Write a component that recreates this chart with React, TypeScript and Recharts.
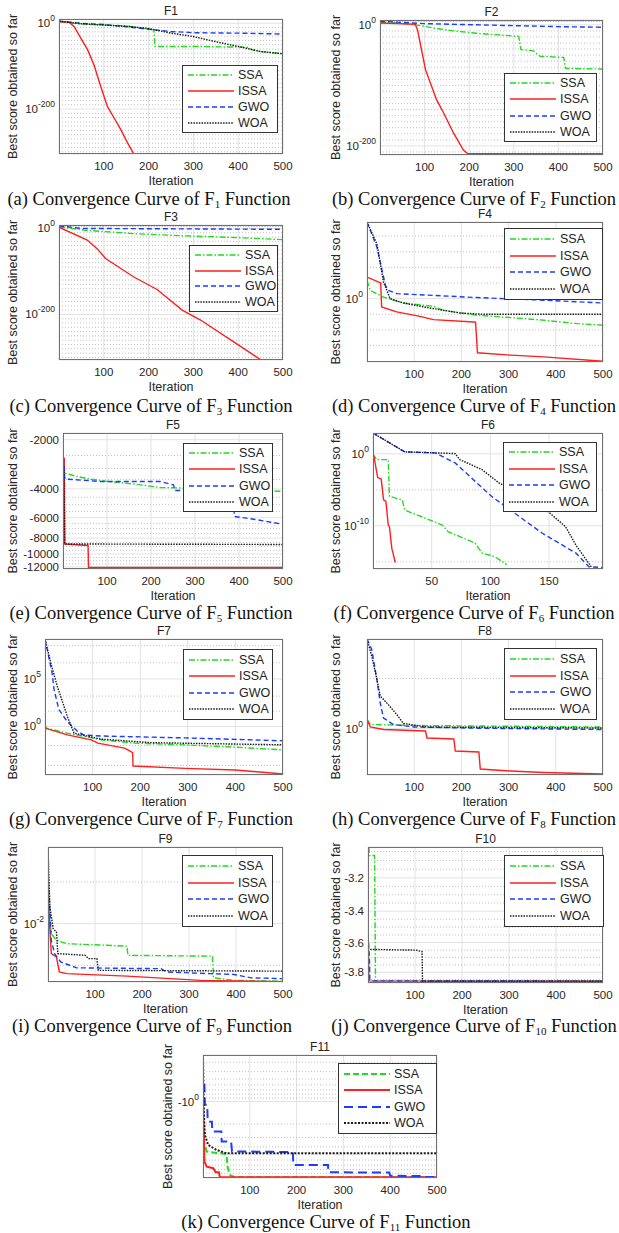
import React from "react";
import { LineChart, Line, XAxis, YAxis, CartesianGrid, ReferenceLine } from "recharts";

type Pt = [number, number];

const SANS = '"Liberation Sans", Arial, sans-serif';
const SERIF = '"Liberation Serif", "Times New Roman", serif';

// points are [iteration, log10(best score)] unless noted
const X_TICKS = [100, 200, 300, 400, 500];

const F1_SSA: Pt[] = [[0, 4], [50, -2], [100, -4], [150, -6], [200, -13], [212, -16], [214, -54], [300, -54], [420, -56], [432, -62], [450, -66], [500, -71]];
const F1_ISSA: Pt[] = [[0, 4], [20, 3], [23, 2], [34, -8], [49, -35], [64, -62], [78, -97], [93, -147], [108, -194], [123, -221], [138, -248], [153, -279], [167, -305], [172, -315]];
const F1_GWO: Pt[] = [[0, 5], [50, 0], [100, -3], [150, -8], [200, -14], [250, -19], [300, -22], [400, -23], [500, -25]];
const F1_WOA: Pt[] = [[0, 5], [50, -1], [100, -4], [150, -7], [200, -12], [250, -23], [300, -31], [350, -43], [400, -54], [450, -66], [500, -71]];

const F2_SSA: Pt[] = [[0, 4], [40, 3], [80, 0], [143, -8], [217, -14], [311, -19], [316, -41], [344, -43], [359, -52], [412, -54], [416, -72], [500, -73]];
const F2_ISSA: Pt[] = [[0, 3], [40, 2], [79, 1], [84, -8], [90, -30], [102, -74], [113, -96], [127, -124], [143, -146], [165, -179], [187, -207], [197, -213], [500, -213]];
const F2_GWO: Pt[] = [[0, 6], [100, 2], [250, -0.5], [400, -3], [500, -4]];
const F2_WOA: Pt[] = [[0, 7], [500, 7]];

const F3_SSA: Pt[] = [[0, 4], [55, -4], [167, -12], [275, -17], [390, -21], [500, -26]];
const F3_ISSA: Pt[] = [[0, 3], [63, -27], [85, -47], [104, -70], [167, -113], [219, -142], [275, -190], [316, -213], [390, -264], [457, -310]];
const F3_GWO: Pt[] = [[0, 6], [50, 0], [500, -2]];
const F3_WOA: Pt[] = [[0, 7], [500, 7]];

const F4_SSA: Pt[] = [[0, 1.17], [7, 0.53], [35, 0.1], [77, -0.28], [141, -0.49], [162, -0.75], [233, -1.06], [304, -1.21], [375, -1.38], [446, -1.6], [500, -1.7]];
const F4_ISSA: Pt[] = [[0, 1.38], [25, 1.06], [29, 1.0], [31, -0.53], [63, -0.85], [112, -1.13], [141, -1.34], [226, -1.49], [230, -1.5], [234, -3.46], [304, -3.61], [375, -3.72], [500, -4.0]];
const F4_GWO: Pt[] = [[0, 4.9], [21, 3.3], [35, 1.4], [39, 0.85], [45, 0.53], [63, 0.32], [233, 0.07], [375, -0.1], [500, -0.28]];
const F4_WOA: Pt[] = [[0, 4.9], [21, 3.5], [35, 1.06], [49, 0], [77, -0.28], [141, -0.64], [198, -0.92], [247, -1.0], [500, -1.0]];

// F5: raw best score (negative)
const F5_SSA: Pt[] = [[0, -2900], [3, -3200], [32, -3360], [60, -3480], [100, -3600], [161, -3730], [221, -3920], [274, -3950], [500, -4140]];
const F5_ISSA: Pt[] = [[0, -2580], [3, -2600], [4, -8690], [57, -8870], [58, -12100], [500, -12100]];
const F5_GWO: Pt[] = [[0, -1850], [1, -2650], [4, -3480], [85, -3600], [221, -3600], [251, -3780], [255, -4090], [300, -4100], [385, -4300], [390, -5900], [433, -6130], [500, -6580]];
const F5_WOA: Pt[] = [[0, -3000], [2, -2900], [4, -8690], [500, -8750]];

const F6_SSA: Pt[] = [[0, 0], [3, -0.8], [13, -0.8], [14, -5.9], [25, -6.4], [27, -7.8], [44, -8.9], [59, -9.9], [64, -10.8], [87, -12.4], [93, -13.8], [104, -14.3], [114, -15.4]];
const F6_ISSA: Pt[] = [[0, 0], [1, -0.56], [4, -3.3], [7, -3.5], [9, -6.4], [11, -6.6], [13, -9.9], [14, -10.1], [16, -13.1], [19, -15.1]];
const F6_GWO: Pt[] = [[0, 2.9], [27, 0.28], [53, 0.14], [70, -1.26], [101, -5.9], [144, -11.0], [173, -13.8], [184, -15.7], [196, -15.8]];
const F6_WOA: Pt[] = [[0, 2.9], [27, 0.28], [53, 0.14], [70, 0.04], [74, -0.8], [93, -2.2], [107, -4.0], [144, -7.3], [164, -10.1], [173, -12.7], [186, -15.7]];

const F7_SSA: Pt[] = [[0, 0.18], [3, -0.17], [47, -0.7], [118, -1.4], [189, -1.75], [294, -1.93], [400, -2.18], [500, -2.46]];
const F7_ISSA: Pt[] = [[0, -0.17], [47, -0.88], [97, -1.4], [111, -1.75], [167, -2.28], [174, -2.46], [184, -2.74], [185, -4.15], [294, -4.4], [400, -4.57], [500, -5.0]];
const F7_GWO: Pt[] = [[0, 9.2], [15, 5.6], [19, 3.9], [29, 1.8], [47, 0.5], [68, -0.5], [82, -0.9], [118, -1.0], [294, -1.2], [500, -1.5]];
const F7_WOA: Pt[] = [[0, 9.2], [12, 6.7], [26, 4.2], [47, 1.05], [61, -0.7], [118, -1.33], [223, -1.7], [500, -1.93]];

const F8_SSA: Pt[] = [[0, 0.18], [7, 0.08], [100, 0.06], [500, 0.03]];
const F8_ISSA: Pt[] = [[0, 0.18], [7, 0.03], [35, -0.02], [124, -0.05], [127, -0.19], [184, -0.21], [187, -0.45], [237, -0.47], [240, -0.81], [304, -0.85], [375, -0.88], [500, -0.91]];
const F8_GWO: Pt[] = [[0, 1.79], [10, 1.58], [21, 0.98], [28, 0.51], [35, 0.21], [56, 0.08], [100, 0.03], [233, 0.006], [500, -0.02]];
const F8_WOA: Pt[] = [[0, 1.79], [10, 1.45], [21, 0.98], [28, 0.65], [45, 0.48], [63, 0.28], [77, 0.1], [127, 0.03], [500, 0.01]];

const F9_SSA: Pt[] = [[0, -1.44], [7, -2.24], [18, -2.4], [40, -2.48], [168, -2.54], [170, -2.76], [350, -2.78], [352, -3.3], [396, -3.36], [500, -3.38]];
const F9_ISSA: Pt[] = [[0, -1.2], [4, -2.16], [7, -2.72], [18, -2.8], [24, -3.16], [40, -3.2], [168, -3.26], [325, -3.36], [500, -3.39]];
const F9_GWO: Pt[] = [[0, -0.8], [4, -1.68], [7, -2.4], [14, -2.72], [27, -2.92], [61, -3.06], [240, -3.08], [253, -3.16], [346, -3.2], [396, -3.22], [432, -3.3], [500, -3.32]];
const F9_WOA: Pt[] = [[0, -0.16], [4, -1.6], [11, -2.12], [18, -2.2], [21, -2.72], [79, -2.76], [86, -2.84], [104, -2.84], [107, -3.12], [500, -3.14]];

// F10, F11: raw best score (negative)
const F10_SSA: Pt[] = [[0, -3.03], [2, -3.03], [3, -3.072], [14, -3.072], [16, -3.862], [500, -3.862]];
const F10_ISSA: Pt[] = [[0, -3.44], [2, -3.86], [500, -3.8625]];
const F10_GWO: Pt[] = [[0, -3.55], [3, -3.7], [4, -3.855], [10, -3.86], [500, -3.862]];
const F10_WOA: Pt[] = [[0, -3.55], [1, -3.645], [102, -3.65], [115, -3.66], [116, -3.862], [500, -3.862]];

const F11_SSA: Pt[] = [[0, -1.36], [2, -3.4], [8, -4.64], [50, -5.0], [53, -7.73], [58, -9.5], [68, -10.15], [500, -10.15]];
const F11_ISSA: Pt[] = [[0, -1.0], [3, -6.3], [8, -7.36], [22, -7.7], [27, -8.73], [34, -8.73], [36, -10.15], [500, -10.15]];
const F11_GWO: Pt[] = [[0, -0.6], [3, -0.6], [4, -1.1], [9, -1.1], [10, -1.85], [19, -1.85], [20, -2.5], [39, -2.5], [40, -3.4], [60, -3.4], [62, -4.6], [192, -4.7], [193, -6.98], [267, -6.98], [268, -8.73], [398, -8.8], [400, -9.7], [470, -9.8], [472, -10.1], [500, -10.1]];
const F11_WOA: Pt[] = [[0, -0.24], [2, -1.5], [4, -2.78], [11, -3.78], [29, -4.4], [50, -4.88], [500, -4.88]];

const SERIES = [
  { key: "ssa", name: "SSA", color: "#1fdc1f", dash: "6 2 1.5 2", thickDash: "6 3" },
  { key: "issa", name: "ISSA", color: "#ff1f1f", dash: undefined, thickDash: undefined },
  { key: "gwo", name: "GWO", color: "#1b3dff", dash: "5 3", thickDash: "9 5" },
  { key: "woa", name: "WOA", color: "#1a1a1a", dash: "1.5 1.2", thickDash: "2 1.5" },
];

const tens = (lo: number, hi: number, skip: number[]) => {
  const out: number[] = [];
  for (let v = lo; v <= hi; v += 10) if (!skip.includes(v)) out.push(v);
  return out;
};

const FORMATS: Record<string, (t: number) => { base: string; sup?: string }> = {
  pow: (t) => ({ base: "10", sup: String(t) }),
  int: (t) => ({ base: String(-Math.round(Math.pow(10, t))) }),
  dec: (t) => ({ base: (-Math.pow(10, t)).toFixed(1) }),
  negpow: (t) => ({ base: "-10", sup: String(Math.round(t)) }),
};

const PANELS = [
  { name: "F1", tag: "a", col: 0, box: [59, 283, 19, 154], xDomain: [0, 500], xTicks: X_TICKS, yDomain: [-305, 10], yTicks: [0, -200], minor: tens(-300, 0, [0, -200]), fmt: "pow", neg: false, data: { ssa: F1_SSA, issa: F1_ISSA, gwo: F1_GWO, woa: F1_WOA }, legend: [182, 278, 65, 133], labelX: 13, cap: [149, 199] },
  { name: "F2", tag: "b", col: 310, box: [380, 603, 20, 155], xDomain: [0, 500], xTicks: X_TICKS, yDomain: [-215, 8], yTicks: [0, -200], minor: tens(-210, 0, [0, -200]), fmt: "pow", neg: false, data: { ssa: F2_SSA, issa: F2_ISSA, gwo: F2_GWO, woa: F2_WOA }, legend: [504, 597, 73, 142], labelX: 336, cap: [474, 199] },
  { name: "F3", tag: "c", col: 0, box: [59, 283, 225, 360], xDomain: [0, 500], xTicks: X_TICKS, yDomain: [-306, 8], yTicks: [0, -200], minor: tens(-300, 0, [0, -200]), fmt: "pow", neg: false, data: { ssa: F3_SSA, issa: F3_ISSA, gwo: F3_GWO, woa: F3_WOA }, legend: [189, 278, 245, 312], labelX: 13, cap: [151, 406] },
  { name: "F4", tag: "d", col: 310, box: [367, 603, 222, 362], xDomain: [0, 500], xTicks: X_TICKS, yDomain: [-4.05, 4.9], yTicks: [0], minor: [-3, -2, -1, 1, 2, 3, 4], fmt: "pow", neg: false, data: { ssa: F4_SSA, issa: F4_ISSA, gwo: F4_GWO, woa: F4_WOA }, legend: [504, 603, 228, 300], labelX: 336, cap: [474, 406] },
  { name: "F5", tag: "e", col: 0, box: [63, 283, 433, 569], xDomain: [0, 500], xTicks: X_TICKS, yDomain: [Math.log10(1820), Math.log10(12360)], yTicks: [-2000, -4000, -6000, -8000, -10000, -12000], minor: [-2500, -3000, -3500, -4500, -5000, -5500, -6500, -7000, -7500, -8500, -9000, -9500, -10500, -11000, -11500], fmt: "int", neg: true, data: { ssa: F5_SSA, issa: F5_ISSA, gwo: F5_GWO, woa: F5_WOA }, legend: [183, 273, 443, 512], labelX: 13, cap: [151, 613] },
  { name: "F6", tag: "f", col: 310, box: [373, 603, 433, 569], xDomain: [0, 196], xTicks: [50, 100, 150], yDomain: [-16, 2.9], yTicks: [0, -10], minor: [-5, -15], fmt: "pow", neg: false, data: { ssa: F6_SSA, issa: F6_ISSA, gwo: F6_GWO, woa: F6_WOA }, legend: [503, 597, 442, 512], labelX: 336, cap: [474, 613] },
  { name: "F7", tag: "g", col: 0, box: [45, 283, 639, 775], xDomain: [0, 500], xTicks: X_TICKS, yDomain: [-5.1, 9.2], yTicks: [0, 5], minor: [8.5, 6.7, 3.2, 1.6, -2, -4.1], fmt: "pow", neg: false, data: { ssa: F7_SSA, issa: F7_ISSA, gwo: F7_GWO, woa: F7_WOA }, legend: [183, 273, 649, 720], labelX: 13, cap: [151, 819] },
  { name: "F8", tag: "h", col: 310, box: [367, 603, 639, 775], xDomain: [0, 500], xTicks: X_TICKS, yDomain: [-0.93, 1.79], yTicks: [0], minor: [1], fmt: "pow", neg: false, data: { ssa: F8_SSA, issa: F8_ISSA, gwo: F8_GWO, woa: F8_WOA }, legend: [504, 597, 648, 720], labelX: 336, cap: [474, 819] },
  { name: "F9", tag: "i", col: 0, box: [48, 283, 847, 982], xDomain: [0, 500], xTicks: X_TICKS, yDomain: [-3.4, -0.16], yTicks: [-2], minor: [-1, -3], fmt: "pow", neg: false, data: { ssa: F9_SSA, issa: F9_ISSA, gwo: F9_GWO, woa: F9_WOA }, legend: [182, 273, 855, 927], labelX: 13, cap: [152, 1026] },
  { name: "F10", tag: "j", col: 310, box: [368, 603, 847, 983], xDomain: [0, 500], xTicks: X_TICKS, yDomain: [Math.log10(3.025), Math.log10(3.875)], yTicks: [-3.2, -3.4, -3.6, -3.8], minor: [-3.05, -3.1, -3.15, -3.25, -3.3, -3.35, -3.45, -3.5, -3.55, -3.65, -3.7, -3.75, -3.85], fmt: "dec", neg: true, data: { ssa: F10_SSA, issa: F10_ISSA, gwo: F10_GWO, woa: F10_WOA }, legend: [504, 604, 855, 927], labelX: 336, cap: [474, 1026] },
  { name: "F11", tag: "k", col: 150, box: [203, 437, 1055, 1178], xDomain: [0, 500], xTicks: X_TICKS, yDomain: [Math.log10(0.24), Math.log10(10.4)], yTicks: [-1], minor: [-0.3, -0.4, -0.5, -0.6, -0.7, -0.8, -0.9, -2, -3, -4, -5, -6, -7, -8, -9], fmt: "negpow", neg: true, thick: true, data: { ssa: F11_SSA, issa: F11_ISSA, gwo: F11_GWO, woa: F11_WOA }, legend: [338, 437, 1063, 1134], labelX: 168, cap: [326, 1222] },
];

type PanelCfg = (typeof PANELS)[number];

function YTick(props: any) {
  const { x, y, payload, fmt } = props;
  const t = FORMATS[fmt](payload.value);
  return (
    <text x={x} y={y} textAnchor="end" dominantBaseline="central" fontSize={11.5} fill="#262626" fontFamily={SANS}>
      {t.base}
      {t.sup !== undefined && (
        <tspan dy={-5} fontSize={8.5}>
          {t.sup}
        </tspan>
      )}
    </text>
  );
}

function LegendBox({ cfg, left, top }: { cfg: PanelCfg; left: number; top: number }) {
  const [x0, x1, y0, y1] = cfg.legend;
  const thick = !!(cfg as any).thick;
  return (
    <div
      style={{
        position: "absolute",
        left: x0 - left,
        top: y0 - top,
        width: x1 - x0,
        height: y1 - y0,
        border: "1px solid #333",
        background: "#fff",
        boxSizing: "border-box",
        display: "flex",
        flexDirection: "column",
        justifyContent: "space-evenly",
      }}
    >
      {SERIES.map((s) => (
        <div key={s.key} style={{ display: "flex", alignItems: "center", height: 14 }}>
          <svg width={46} height={8} style={{ marginLeft: 5 }}>
            <line x1={0} y1={4} x2={46} y2={4} stroke={s.color} strokeWidth={thick ? 2 : 1.4} strokeDasharray={thick ? s.thickDash : s.dash} />
          </svg>
          <span style={{ fontSize: 12.5, fontFamily: SANS, color: "#222", marginLeft: 4 }}>{s.name}</span>
        </div>
      ))}
    </div>
  );
}

function Panel({ cfg }: { cfg: PanelCfg }) {
  const tf = cfg.neg ? (v: number) => Math.log10(-v) : (v: number) => v;
  const [px0, px1, py0, py1] = cfg.box;
  const left = cfg.col;
  const top = py0 - 20;
  const width = px1 + 14 - left;
  const height = py1 + 33 - top;
  const thick = !!(cfg as any).thick;
  const data = cfg.data as Record<string, Pt[]>;
  const txt = { fontSize: 11.5, fill: "#262626", fontFamily: SANS };

  return (
    <div style={{ position: "absolute", left, top, width, height }}>
      <LineChart width={width} height={height} margin={{ top: 20, right: 14, left: 0, bottom: 0 }}>
        <CartesianGrid stroke="#e2e2e2" />
        {cfg.minor.map((m) => (
          <ReferenceLine key={m} y={tf(m)} stroke="#c2c2c2" strokeDasharray="1 2" />
        ))}
        <XAxis
          type="number"
          dataKey="x"
          domain={cfg.xDomain}
          ticks={cfg.xTicks}
          interval={0}
          allowDataOverflow
          tickLine={false}
          axisLine={false}
          tickSize={4}
          tickMargin={4}
          height={33}
          tick={txt}
          label={{ value: "Iteration", position: "insideBottom", offset: 2, fontSize: 12.5, fill: "#262626", fontFamily: SANS }}
        />
        <YAxis
          type="number"
          dataKey="y"
          domain={cfg.yDomain}
          ticks={cfg.yTicks.map(tf)}
          interval={0}
          reversed={cfg.neg}
          allowDataOverflow
          width={px0 - left}
          tickLine={false}
          axisLine={false}
          tickSize={2}
          tickMargin={2}
          tick={(p: any) => <YTick {...p} fmt={cfg.fmt} />}
          label={{
            value: "Best score obtained so far",
            angle: -90,
            position: "insideLeft",
            offset: cfg.labelX - left,
            textAnchor: "middle",
            fontSize: 12.5,
            fill: "#262626",
            fontFamily: SANS,
          }}
        />
        {SERIES.map((s) => (
          <Line
            key={s.key}
            data={data[s.key].map(([x, v]) => ({ x, y: tf(v) }))}
            dataKey="y"
            type="linear"
            stroke={s.color}
            strokeWidth={thick ? 2 : 1.4}
            strokeDasharray={thick ? s.thickDash : s.dash}
            dot={false}
            isAnimationActive={false}
          />
        ))}
      </LineChart>
      <div
        style={{
          position: "absolute",
          left: px0 - left,
          top: 20,
          width: px1 - px0,
          height: py1 - py0,
          border: "1px solid #707070",
          boxSizing: "border-box",
          pointerEvents: "none",
        }}
      />
      <div
        style={{
          position: "absolute",
          left: px0 - left,
          top: 5,
          width: px1 - px0,
          textAlign: "center",
          fontSize: 12,
          lineHeight: "14px",
          fontFamily: SANS,
          color: "#222",
        }}
      >
        {cfg.name}
      </div>
      <LegendBox cfg={cfg} left={left} top={top} />
    </div>
  );
}

function Caption({ cfg }: { cfg: PanelCfg }) {
  const [cx, cy] = cfg.cap;
  const n = cfg.name.slice(1);
  return (
    <div
      style={{
        position: "absolute",
        left: cx - 160,
        top: cy - 12,
        width: 320,
        textAlign: "center",
        fontFamily: SERIF,
        fontSize: 18.5,
        lineHeight: "24px",
        color: "#111",
        whiteSpace: "nowrap",
      }}
    >
      ({cfg.tag}) Convergence Curve of F
      <span style={{ fontSize: 11, position: "relative", top: 3 }}>{n}</span> Function
    </div>
  );
}

export default function App() {
  return (
    <div style={{ position: "relative", width: 619, height: 1233, background: "#fff", overflow: "hidden" }}>
      <style>{`body{margin:0}`}</style>
      {PANELS.map((p) => (
        <React.Fragment key={p.name}>
          <Panel cfg={p} />
          <Caption cfg={p} />
        </React.Fragment>
      ))}
    </div>
  );
}
